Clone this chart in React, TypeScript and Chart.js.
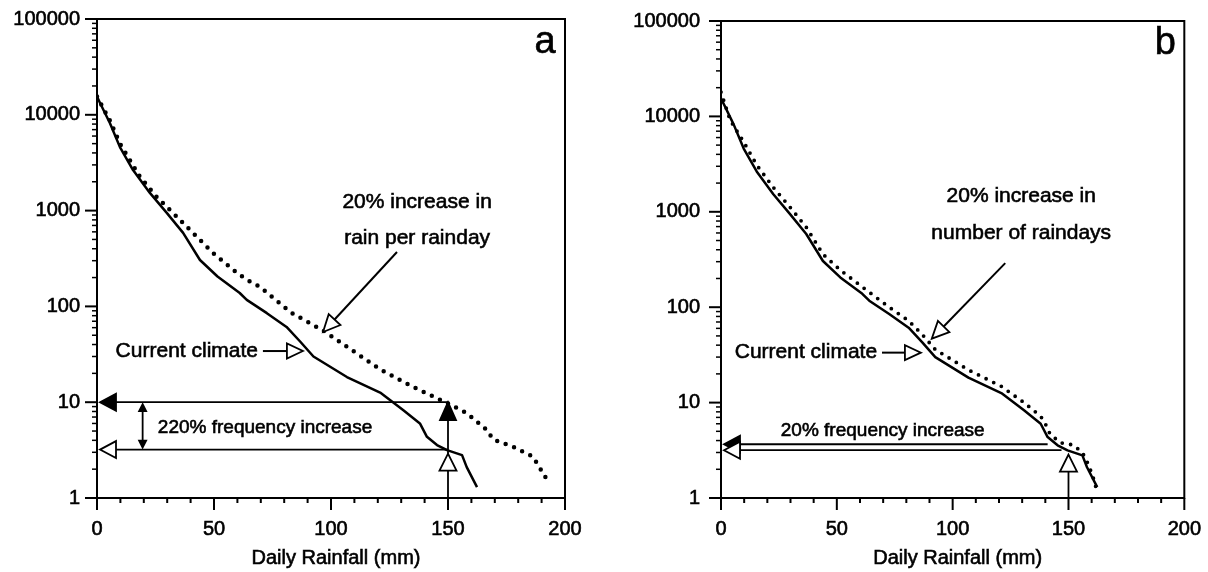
import React, { useEffect, useRef } from "react";
import { Chart, registerables } from "chart.js";

Chart.register(...registerables);

const FONT = '"Liberation Sans", Arial, Helvetica, sans-serif';

// Current climate (solid) – same in both panels
const currentX = [0, 1.3, 5.5, 9.8, 15.4, 22.6, 29.9, 36.8, 44, 51.5, 61, 64, 72.6, 81, 86.8, 92.5, 106.8, 121, 130.8, 138, 141, 145.3, 149.6, 156, 158, 162.4];
const currentY = [15500, 13300, 8200, 4600, 2650, 1530, 940, 585, 305, 205, 138, 117, 85, 61, 43, 30, 18.3, 12.6, 8.3, 6.0, 4.35, 3.57, 3.16, 2.8, 2.1, 1.3];

// Panel a: 20% increase in rain per rainday (dotted)
const rainPerDayX = [0, 5.5, 9.8, 18.4, 25.6, 32.5, 39.7, 49.6, 59.8, 64, 69.7, 83, 96.6, 106.8, 121, 135, 149.6, 158, 166.7, 169.2, 178, 186.3, 189.3, 192.3];
const rainPerDayY = [15500, 8700, 5000, 2240, 1380, 944, 630, 360, 224, 190, 160, 86, 56, 38, 22, 14.5, 9.8, 7.7, 5.1, 4.1, 3.4, 2.7, 2.05, 1.55];

// Panel b: 20% increase in number of raindays (dotted)
const moreDaysX = [0, 3.9, 9.8, 15.4, 22.6, 29.9, 36.8, 44, 51.5, 61, 72.6, 81, 86.8, 92.5, 106.8, 121, 130.8, 138, 140, 142, 146.4, 152, 156, 158.4, 160.5, 161.8];
const moreDaysY = [18000, 9200, 5400, 3100, 1800, 1110, 690, 360, 245, 163, 100, 72, 52, 36, 22, 14.8, 10, 7.2, 6.0, 4.7, 3.8, 3.6, 3.0, 2.3, 1.7, 1.3];

const xTickValues = [0, 50, 100, 150, 200];
const yTickValues = [1, 10, 100, 1000, 10000, 100000];
const xAxisTitle = "Daily Rainfall (mm)";

type Txt = { x: number; y: number; text: string; size: number; align: CanvasTextAlign };
type Ann = {
  texts: Txt[];
  leader: { x0: number; y0: number; x1: number; y1: number };
  current: { x0: number; x1: number; y: number };
  hArrows: { y: number; x1: number; filled: boolean }[];
  dbl?: { x: number; y0: number; y1: number };
  vArrow: { x: number; openTip: number; filledTip?: number };
};

const annA: Ann = {
  texts: [
    { x: 191.5, y: 57500, text: "a", size: 38, align: "center" },
    { x: 136.8, y: 1230, text: "20% increase in", size: 21, align: "center" },
    { x: 136.8, y: 518, text: "rain per rainday", size: 21, align: "center" },
    { x: 68.8, y: 34.2, text: "Current climate", size: 21, align: "right" },
    { x: 26, y: 5.4, text: "220% frequency increase", size: 19, align: "left" },
  ],
  leader: { x0: 128.2, y0: 370, x1: 96.6, y1: 54 },
  current: { x0: 70.9, x1: 88, y: 34.2 },
  hArrows: [
    { y: 10, x1: 150, filled: true },
    { y: 3.2, x1: 150, filled: false },
  ],
  dbl: { x: 19.5, y0: 10, y1: 3.2 },
  vArrow: { x: 150, openTip: 2.9, filledTip: 10 },
};

const annB: Ann = {
  texts: [
    { x: 191.8, y: 57500, text: "b", size: 38, align: "center" },
    { x: 129.6, y: 1455, text: "20% increase in", size: 21, align: "center" },
    { x: 129.6, y: 598, text: "number of raindays", size: 21, align: "center" },
    { x: 67.4, y: 33.4, text: "Current climate", size: 21, align: "right" },
    { x: 25.8, y: 5.1, text: "20% frequency increase", size: 19, align: "left" },
  ],
  leader: { x0: 122.7, y0: 290, x1: 91, y1: 46.8 },
  current: { x0: 69.5, x1: 86.3, y: 33.4 },
  hArrows: [
    { y: 3.66, x1: 141, filled: true },
    { y: 3.17, x1: 147, filled: false },
  ],
  vArrow: { x: 150, openTip: 2.85 },
};

function head(ctx: CanvasRenderingContext2D, tx: number, ty: number, ang: number, len: number, hw: number, filled: boolean) {
  const bx = tx - Math.cos(ang) * len;
  const by = ty - Math.sin(ang) * len;
  const nx = -Math.sin(ang) * hw;
  const ny = Math.cos(ang) * hw;
  ctx.beginPath();
  ctx.moveTo(tx, ty);
  ctx.lineTo(bx + nx, by + ny);
  ctx.lineTo(bx - nx, by - ny);
  ctx.closePath();
  ctx.fillStyle = filled ? "#000" : "#fff";
  ctx.fill();
  ctx.lineWidth = 1.8;
  ctx.strokeStyle = "#000";
  ctx.stroke();
}

function seg(ctx: CanvasRenderingContext2D, x0: number, y0: number, x1: number, y1: number, w = 1.8) {
  ctx.beginPath();
  ctx.moveTo(x0, y0);
  ctx.lineTo(x1, y1);
  ctx.lineWidth = w;
  ctx.strokeStyle = "#000";
  ctx.stroke();
}

function boldText(ctx: CanvasRenderingContext2D, text: string, x: number, y: number) {
  ctx.lineWidth = 0.6;
  ctx.strokeStyle = "#000";
  ctx.strokeText(text, x, y);
  ctx.fillText(text, x, y);
}

function decorPlugin(ann: Ann) {
  return {
    id: "decor",
    afterDraw(chart: any) {
      const { ctx, chartArea: ca } = chart;
      const xs = chart.scales.x;
      const ys = chart.scales.y;
      const px = (v: number) => xs.getPixelForValue(v);
      const py = (v: number) => ys.getPixelForValue(v);
      ctx.save();
      // frame
      ctx.strokeStyle = "#000";
      ctx.lineWidth = 2;
      ctx.strokeRect(ca.left, ca.top, ca.right - ca.left, ca.bottom - ca.top);
      // x ticks
      for (let v = 0; v <= 200; v += 10) {
        const major = v % 50 === 0;
        seg(ctx, px(v), ca.bottom, px(v), ca.bottom + (major ? 12 : 5), 2);
      }
      // y ticks
      for (let d = 0; d <= 5; d++) {
        for (let m = 1; m < 10; m++) {
          const v = m * Math.pow(10, d);
          if (v > 100000) break;
          const major = m === 1;
          seg(ctx, ca.left - (major ? 12 : 5), py(v), ca.left, py(v), major ? 2 : 1.5);
        }
      }
      // axis title
      ctx.fillStyle = "#000";
      ctx.textBaseline = "middle";
      ctx.textAlign = "center";
      ctx.font = `20px ${FONT}`;
      boldText(ctx, xAxisTitle, (ca.left + ca.right) / 2 + 5, ca.bottom + 60);
      // texts
      for (const t of ann.texts) {
        ctx.font = `${t.size}px ${FONT}`;
        ctx.textAlign = t.align;
        boldText(ctx, t.text, px(t.x), py(t.y));
      }
      // leader arrow
      {
        const x0 = px(ann.leader.x0), y0 = py(ann.leader.y0);
        const x1 = px(ann.leader.x1), y1 = py(ann.leader.y1);
        const ang = Math.atan2(y1 - y0, x1 - x0);
        seg(ctx, x0, y0, x1 - Math.cos(ang) * 16, y1 - Math.sin(ang) * 16, 2);
        head(ctx, x1, y1, ang, 17, 8, false);
      }
      // current climate arrow
      {
        const y = py(ann.current.y);
        const x0 = px(ann.current.x0), x1 = px(ann.current.x1);
        seg(ctx, x0, y, x1 - 15, y, 2);
        head(ctx, x1, y, 0, 16, 7.5, false);
      }
      // horizontal arrows
      for (const h of ann.hArrows) {
        const y = py(h.y);
        const tip = ca.left + 3;
        seg(ctx, tip + 14, y, px(h.x1), y, 1.8);
        head(ctx, tip, y, Math.PI, 16, 8.5, h.filled);
      }
      // double arrow
      if (ann.dbl) {
        const x = px(ann.dbl.x);
        const ya = py(ann.dbl.y0) + 2, yb = py(ann.dbl.y1) - 2;
        seg(ctx, x, ya + 4, x, yb - 4, 1.8);
        head(ctx, x, ya, -Math.PI / 2, 7, 3.5, true);
        head(ctx, x, yb, Math.PI / 2, 7, 3.5, true);
      }
      // vertical arrow
      {
        const x = px(ann.vArrow.x);
        const yo = py(ann.vArrow.openTip);
        seg(ctx, x, ca.bottom, x, yo + 10, 1.8);
        if (ann.vArrow.filledTip !== undefined) {
          const yf = py(ann.vArrow.filledTip);
          seg(ctx, x, yo, x, yf + 10, 1.8);
          head(ctx, x, yf, -Math.PI / 2, 18, 8, true);
        }
        head(ctx, x, yo, -Math.PI / 2, 17, 8.5, false);
      }
      ctx.restore();
    },
  };
}

function buildConfig(
  dottedX: number[],
  dottedY: number[],
  dotWidth: number,
  dotGap: number,
  yAxisWidth: number,
  yTickPad: number,
  padRight: number,
  ann: Ann
): any {
  const solid = currentX.map((x, i) => ({ x, y: currentY[i] }));
  const dotted = dottedX.map((x, i) => ({ x, y: dottedY[i] }));
  const tickFont = { family: FONT, size: 20 };
  return {
    type: "scatter",
    data: {
      datasets: [
        {
          data: solid,
          showLine: true,
          borderColor: "#000",
          borderWidth: 2.5,
          pointRadius: 0,
          tension: 0,
          borderJoinStyle: "round",
        },
        {
          data: dotted,
          showLine: true,
          borderColor: "#000",
          borderWidth: dotWidth,
          borderDash: [0, dotGap],
          borderCapStyle: "round",
          pointRadius: 0,
          tension: 0,
        },
      ],
    },
    options: {
      animation: false,
      responsive: false,
      devicePixelRatio: 1,
      layout: { padding: { left: 0, top: 19, right: padRight, bottom: 0 } },
      plugins: { legend: { display: false }, tooltip: { enabled: false } },
      scales: {
        x: {
          type: "linear",
          min: 0,
          max: 200,
          afterBuildTicks: (s: any) => {
            s.ticks = xTickValues.map((v) => ({ value: v }));
          },
          afterFit: (s: any) => {
            s.height = 74;
          },
          ticks: {
            font: tickFont,
            color: "#000",
            padding: 7,
            maxRotation: 0,
            autoSkip: false,
            textStrokeColor: "#000",
            textStrokeWidth: 0.6,
          },
          grid: { display: false, drawTicks: true, tickLength: 12 },
          border: { display: false },
          title: { display: false },
        },
        y: {
          type: "logarithmic",
          min: 1,
          max: 100000,
          afterBuildTicks: (s: any) => {
            s.ticks = yTickValues.map((v) => ({ value: v }));
          },
          afterFit: (s: any) => {
            s.width = yAxisWidth;
          },
          ticks: {
            font: tickFont,
            color: "#000",
            padding: yTickPad,
            autoSkip: false,
            textStrokeColor: "#000",
            textStrokeWidth: 0.6,
            callback: (v: any) => String(v),
          },
          grid: { display: false, drawTicks: true, tickLength: 12 },
          border: { display: false },
        },
      },
    },
    plugins: [decorPlugin(ann)],
  };
}

export default function App() {
  const refA = useRef<HTMLCanvasElement>(null);
  const refB = useRef<HTMLCanvasElement>(null);

  useEffect(() => {
    document.body.style.margin = "0";
    const a = new Chart(refA.current!, buildConfig(rainPerDayX, rainPerDayY, 4.5, 9, 97, 5, 39, annA));
    const b = new Chart(refB.current!, buildConfig(moreDaysX, moreDaysY, 3.8, 8.5, 117, 9, 21, annB));
    return () => {
      a.destroy();
      b.destroy();
    };
  }, []);

  return (
    <div style={{ position: "absolute", left: 0, top: 0, width: 1208, height: 572, background: "#fff" }}>
      <canvas ref={refA} width={604} height={572} style={{ position: "absolute", left: 0, top: 0 }} />
      <canvas ref={refB} width={604} height={572} style={{ position: "absolute", left: 604, top: 0 }} />
    </div>
  );
}
